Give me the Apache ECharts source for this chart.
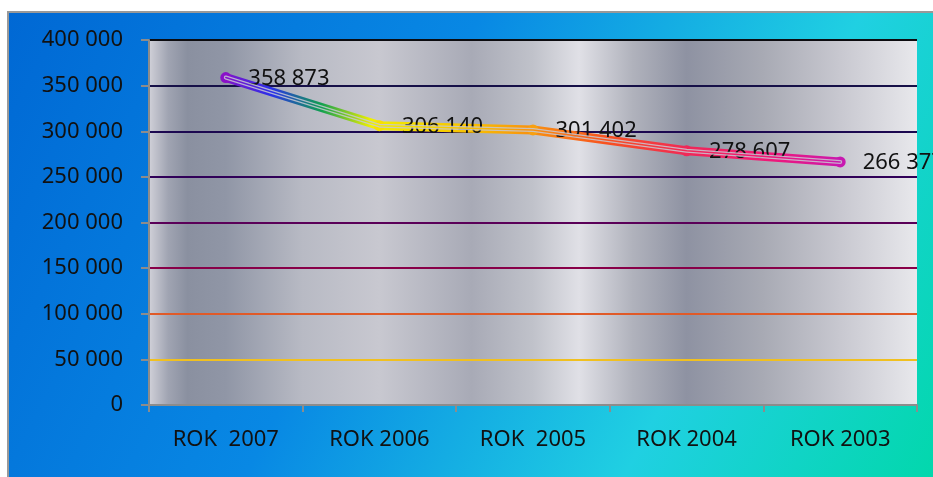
<!DOCTYPE html>
<html><head><meta charset="utf-8">
<script src="https://cdn.jsdelivr.net/npm/echarts@6/dist/echarts.min.js"></script>
<style>html,body{margin:0;padding:0;background:#fff}#c{width:933px;height:477px}</style>
</head><body><div id="c"></div>
<script>
const categories = ['ROK  2007', 'ROK 2006', 'ROK  2005', 'ROK 2004', 'ROK 2003'];
const values = [358873, 306140, 301402, 278607, 266377];
const pointColors = ['#8a10c8', '#f8e000', '#f8a010', '#f02858', '#c818b0'];
const gridColors = ['#888888', '#f0c020', '#e05a28', '#880048', '#5a0058', '#300058', '#1c0850', '#161048', '#0c0c10'];

function fmt(v) { return String(v).replace(/\B(?=(\d{3})+(?!\d))/g, ' '); }
const FONT = 'Noto Sans';
const chart = echarts.init(document.getElementById('c'));
const lineGrad = new echarts.graphic.LinearGradient(0, 0, 1, 0, [
  {offset: 0, color: '#8a10c8'}, {offset: 0.08, color: '#2a30e8'}, {offset: 0.16, color: '#10a050'},
  {offset: 0.24, color: '#f0f000'}, {offset: 0.4, color: '#f8c000'}, {offset: 0.5, color: '#f89010'},
  {offset: 0.62, color: '#f85020'}, {offset: 0.75, color: '#f02858'}, {offset: 0.88, color: '#f01878'},
  {offset: 1, color: '#c818b0'}]);
chart.setOption({
  backgroundColor: '#fff',
  animation: false,
  graphic: [{
    type: 'rect', z: -10, shape: {x: 8, y: 12, width: 940, height: 480},
    style: {
      fill: new echarts.graphic.LinearGradient(0, 0, 1, 1, [
        {offset: 0, color: '#0068d4'}, {offset: 0.4, color: '#0888e4'},
        {offset: 0.72, color: '#20d0e2'}, {offset: 1, color: '#00d8a8'}]),
      stroke: '#999', lineWidth: 2
    }
  }],
  grid: {
    left: 149, right: 16, top: 40, bottom: 72, show: true, borderWidth: 0,
    backgroundColor: new echarts.graphic.LinearGradient(0, 0, 1, 0, [
      {offset: 0, color: '#d0d0d8'}, {offset: 0.025, color: '#a0a4b2'}, {offset: 0.05, color: '#8a90a0'},
      {offset: 0.1, color: '#9096a6'}, {offset: 0.2, color: '#b8bac4'}, {offset: 0.3, color: '#c8c8d0'},
      {offset: 0.42, color: '#a8aab6'}, {offset: 0.5, color: '#c0c2ca'}, {offset: 0.56, color: '#e0e0e6'},
      {offset: 0.63, color: '#b0b2bc'}, {offset: 0.7, color: '#8e92a2'}, {offset: 0.8, color: '#a8aab4'},
      {offset: 0.9, color: '#c8c8d0'}, {offset: 1, color: '#e8e8ec'}])
  },
  xAxis: {
    type: 'category', data: categories, boundaryGap: true,
    axisLine: {lineStyle: {color: '#8c8c8c', width: 2}},
    axisTick: {show: true, length: 7, lineStyle: {color: '#8c8c8c', width: 2}},
    axisLabel: {color: '#111', fontSize: 22, fontFamily: FONT, margin: 24},
    splitLine: {show: false}
  },
  yAxis: {
    type: 'value', min: 0, max: 400000, interval: 50000,
    axisLine: {show: true, lineStyle: {color: '#8c8c8c', width: 2}},
    axisTick: {show: true, length: 8, lineStyle: {color: '#8c8c8c', width: 2}},
    axisLabel: {color: '#111', fontSize: 22, fontFamily: FONT, margin: 26, formatter: fmt},
    splitLine: {show: true, lineStyle: {color: gridColors, width: 1.8}}
  },
  series: [
    {
      type: 'line', data: values, z: 3, symbol: 'circle', symbolSize: 11, showSymbol: true,
      lineStyle: {width: 9, color: lineGrad, cap: 'round', join: 'round'},
      itemStyle: {color: (p) => pointColors[p.dataIndex]},
      label: {show: true, position: 'right', distance: 17, color: '#111', fontSize: 22, fontFamily: FONT,
        offset: [0, 1], formatter: (p) => fmt(p.value)}
    },
    {
      type: 'line', data: values, z: 4, symbol: 'none', silent: true,
      lineStyle: {width: 4, color: 'rgba(200,200,210,0.85)', cap: 'round'}
    },
    {
      type: 'line', data: values, z: 5, symbol: 'none', silent: true,
      lineStyle: {width: 1.5, color: lineGrad, cap: 'round'}
    }
  ]
});
</script></body></html>
